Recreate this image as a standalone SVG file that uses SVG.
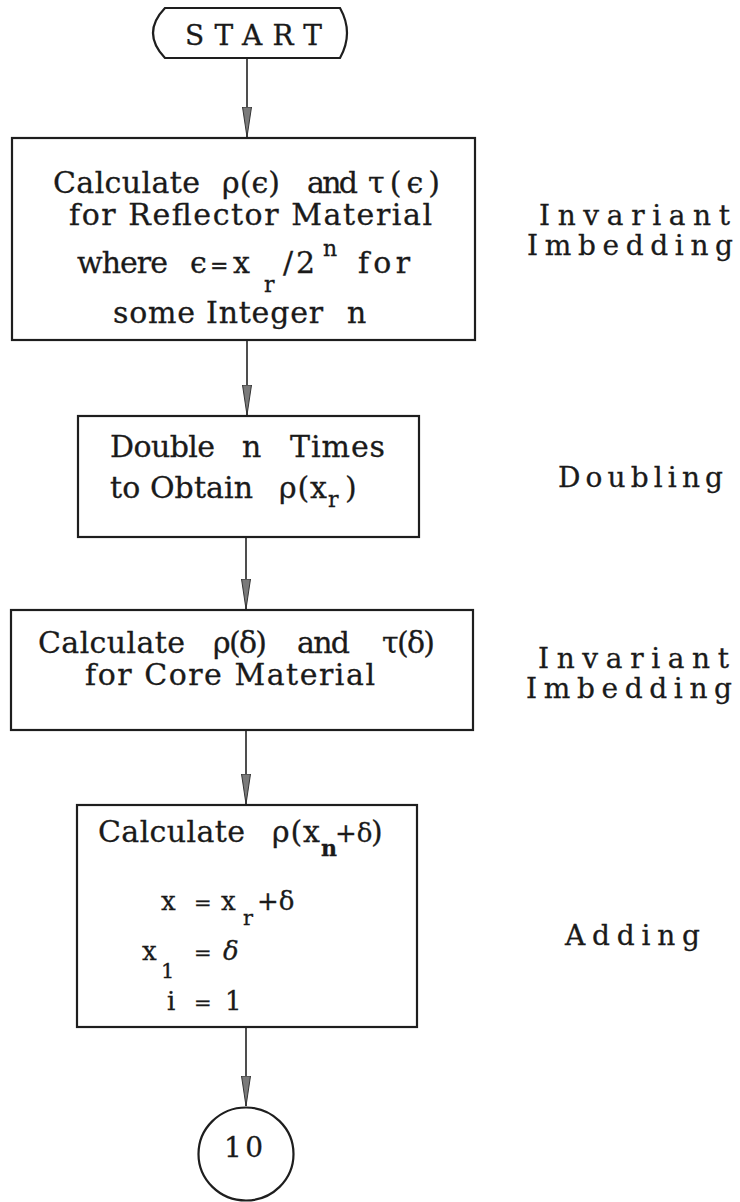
<svg xmlns="http://www.w3.org/2000/svg" width="740" height="1202" viewBox="0 0 740 1202">
<defs>
<style>
.box{fill:none;stroke:#1e1e1e;stroke-width:2.2}
.ln{stroke:#222;stroke-width:1.6;fill:none}
.bt{font-family:"DejaVu Serif",serif;font-size:30px;fill:#1a1a1a;stroke:#1a1a1a;stroke-width:0.3}
.sb{font-family:"DejaVu Serif",serif;font-size:22px;fill:#1a1a1a;stroke:#1a1a1a;stroke-width:0.3}
.sm{font-family:"DejaVu Serif",serif;font-size:22px;fill:#1a1a1a;stroke:#1a1a1a;stroke-width:0.3}
.eq{font-family:"DejaVu Serif",serif;font-size:26px;fill:#1a1a1a;stroke:#1a1a1a;stroke-width:0.3}
.es{font-family:"DejaVu Serif",serif;font-size:21px;fill:#1a1a1a;stroke:#1a1a1a;stroke-width:0.3}
.tw{font-family:"DejaVu Serif",serif;font-size:28px;fill:#1a1a1a;stroke:#1a1a1a;stroke-width:0.3}
</style>
<marker id="ah" viewBox="0 0 30 10" markerUnits="userSpaceOnUse" markerWidth="30" markerHeight="10" refX="30" refY="5" orient="auto">
<path d="M0,0.5 L30,5 L0,9.5 Z" fill="#7a7a7a" stroke="#333" stroke-width="1"/>
</marker>
</defs>
<rect width="740" height="1202" fill="#fff"/>

<g id="connectors">
<line class="ln" x1="247" y1="58" x2="247" y2="137" marker-end="url(#ah)"/>
<line class="ln" x1="247" y1="340" x2="247" y2="415" marker-end="url(#ah)"/>
<line class="ln" x1="246" y1="537" x2="246" y2="609" marker-end="url(#ah)"/>
<line class="ln" x1="246" y1="730" x2="246" y2="804" marker-end="url(#ah)"/>
<line class="ln" x1="246" y1="1027" x2="246" y2="1106" marker-end="url(#ah)"/>
</g>

<g id="start">
<path class="box" d="M165,8 H340 Q354,33 340,58 H165 Q141,33 165,8 Z"/>
<text class="tw" x="185" y="45" textLength="137" lengthAdjust="spacing">START</text>
</g>

<g id="box1">
<rect class="box" x="12" y="138" width="463" height="202"/>
<text class="bt" x="53" y="193" textLength="147" lengthAdjust="spacing">Calculate</text>
<text class="bt" x="222" y="193" textLength="58" lengthAdjust="spacing">ρ(ϵ)</text>
<text class="bt" x="307" y="193" textLength="51" lengthAdjust="spacing">and</text>
<text class="bt" x="368" y="193" textLength="72" lengthAdjust="spacing">τ(ϵ)</text>
<text class="bt" x="69" y="225" textLength="363" lengthAdjust="spacing">for Reflector Material</text>
<text class="bt" x="77" y="273" textLength="91" lengthAdjust="spacing">where</text>
<text class="bt" x="190" y="273">ϵ</text>
<text class="sm" x="210" y="273">=</text>
<text class="bt" x="233" y="273">x</text>
<text class="sb" x="264" y="292">r</text>
<text class="bt" x="283" y="273">/</text>
<text class="bt" x="296" y="273">2</text>
<text class="sb" x="323" y="256">n</text>
<text class="bt" x="358" y="273" textLength="52" lengthAdjust="spacing">for</text>
<text class="bt" x="113" y="323" textLength="210" lengthAdjust="spacing">some Integer</text>
<text class="bt" x="347" y="323">n</text>
</g>

<g id="box2">
<rect class="box" x="78" y="416" width="341" height="121"/>
<text class="bt" x="110" y="457" textLength="105" lengthAdjust="spacing">Double</text>
<text class="bt" x="242" y="457">n</text>
<text class="bt" x="290" y="457" textLength="95" lengthAdjust="spacing">Times</text>
<text class="bt" x="110" y="498" textLength="143" lengthAdjust="spacing">to Obtain</text>
<text class="bt" x="279" y="498" textLength="48" lengthAdjust="spacing">ρ(x</text>
<text class="sb" x="328" y="507">r</text>
<text class="bt" x="345" y="498">)</text>
</g>

<g id="box3">
<rect class="box" x="11" y="610" width="462" height="120"/>
<text class="bt" x="38" y="653" textLength="147" lengthAdjust="spacing">Calculate</text>
<text class="bt" x="213" y="653" textLength="54" lengthAdjust="spacing">ρ(δ)</text>
<text class="bt" x="297" y="653" textLength="53" lengthAdjust="spacing">and</text>
<text class="bt" x="382" y="653" textLength="53" lengthAdjust="spacing">τ(δ)</text>
<text class="bt" x="85" y="685" textLength="290" lengthAdjust="spacing">for Core Material</text>
</g>

<g id="box4">
<rect class="box" x="77" y="805" width="340" height="222"/>
<text class="bt" x="98" y="842" textLength="147" lengthAdjust="spacing">Calculate</text>
<text class="bt" x="272" y="842" textLength="48" lengthAdjust="spacing">ρ(x</text>
<text class="sb" x="321" y="856" font-weight="bold">n</text>
<text class="eq" x="335" y="842" font-size="24">+δ</text>
<text class="bt" x="371" y="842">)</text>
<text class="eq" x="161" y="910">x</text>
<text class="es" x="194" y="910">=</text>
<text class="eq" x="221" y="910">x</text>
<text class="es" x="243" y="925">r</text>
<text class="eq" x="257" y="910">+δ</text>
<text class="eq" x="142" y="960">x</text>
<text class="es" x="161" y="978">1</text>
<text class="es" x="194" y="960">=</text>
<text class="eq" x="223" y="960" font-style="italic">δ</text>
<text class="eq" x="167" y="1010">i</text>
<text class="es" x="194" y="1010">=</text>
<text class="eq" x="225" y="1010">1</text>
</g>

<g id="connector10">
<ellipse class="box" cx="246" cy="1154" rx="47.5" ry="46.5"/>
<text class="tw" x="224" y="1157" textLength="39" lengthAdjust="spacing">10</text>
</g>

<g id="label-invariant-1">
<text class="tw" x="539" y="225" textLength="191" lengthAdjust="spacing">Invariant</text>
<text class="tw" x="527" y="255" textLength="206" lengthAdjust="spacing">Imbedding</text>
</g>
<g id="label-doubling">
<text class="tw" x="558" y="487" textLength="165" lengthAdjust="spacing">Doubling</text>
</g>
<g id="label-invariant-2">
<text class="tw" x="538" y="668" textLength="191" lengthAdjust="spacing">Invariant</text>
<text class="tw" x="526" y="698" textLength="206" lengthAdjust="spacing">Imbedding</text>
</g>
<g id="label-adding">
<text class="tw" x="565" y="945" textLength="135" lengthAdjust="spacing">Adding</text>
</g>
</svg>
